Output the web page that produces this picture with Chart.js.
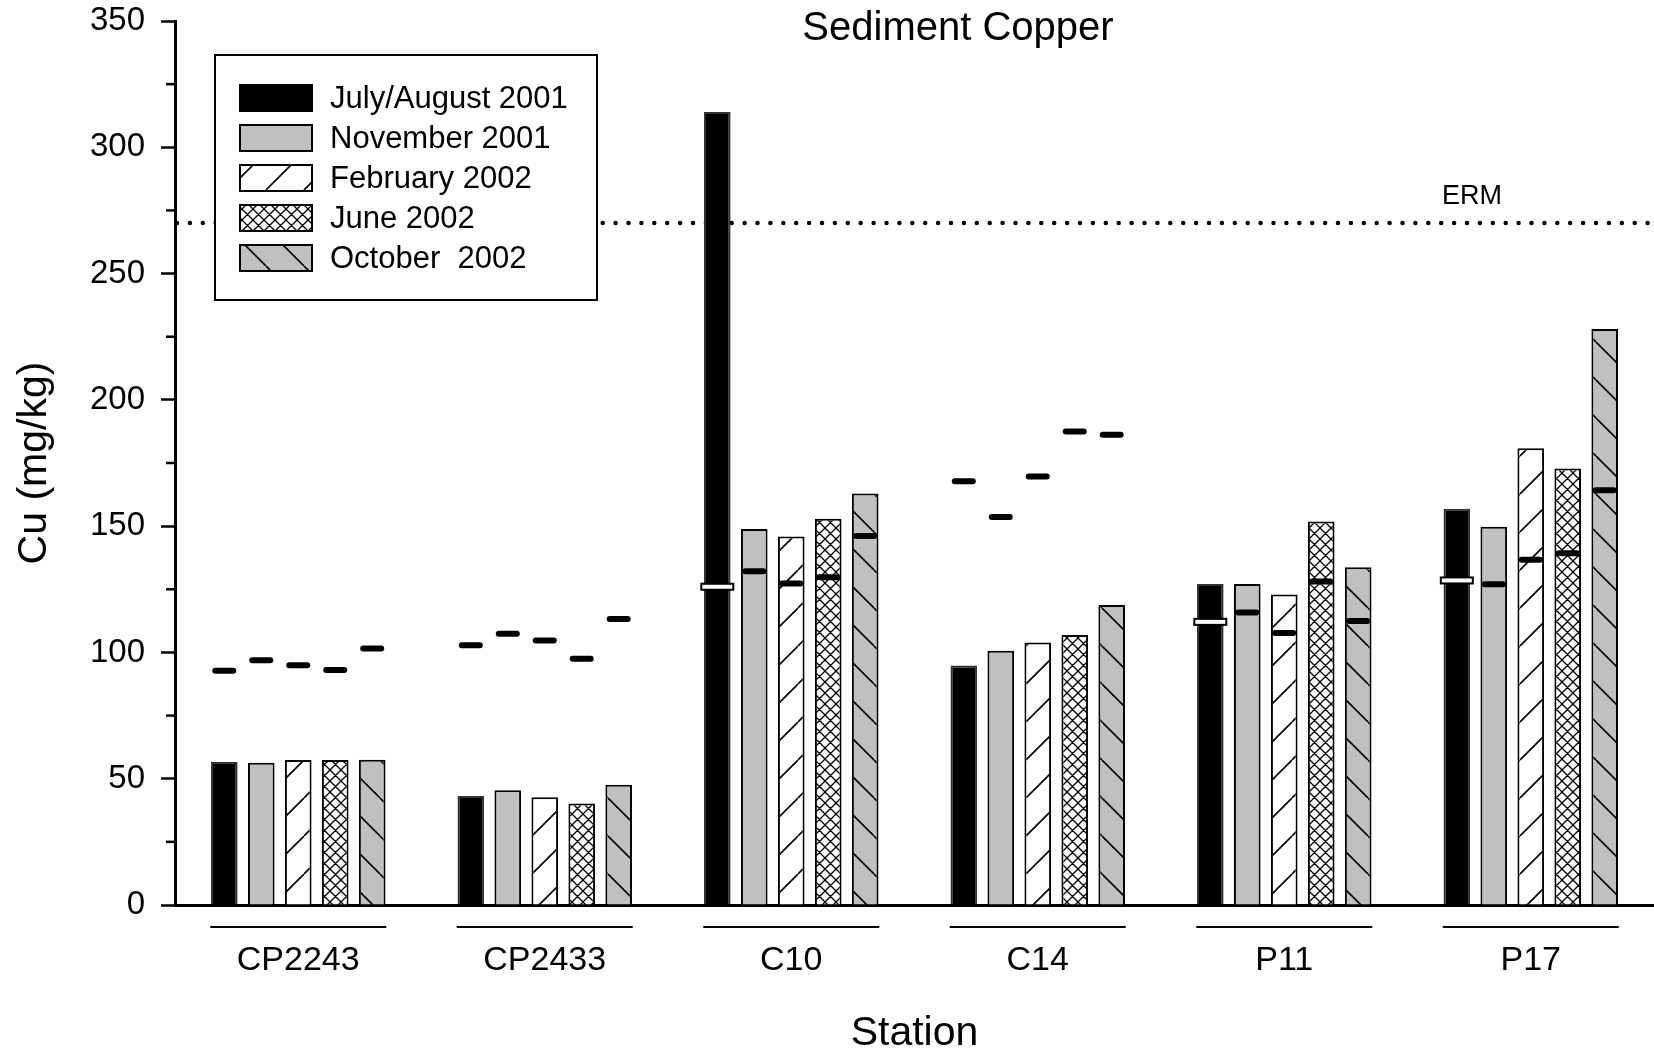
<!DOCTYPE html>
<html lang="en">
<head>
  <meta charset="UTF-8">
  <title>Sediment Copper</title>
  <script src="https://cdn.jsdelivr.net/npm/chart.js"></script>
  <style>
    html, body { margin: 0; padding: 0; background: #fff; }
  </style>
</head>
<body>
  <canvas id="grafico" width="1654" height="1055"></canvas>
  <script>
    // stations on the x axis
    var estacoes = ['CP2243', 'CP2433', 'C10', 'C14', 'P11', 'P17']
    var campanhas = ['July/August 2001', 'November 2001', 'February 2002', 'June 2002', 'October  2002']

    // bar heights (Cu mg/kg), one list per sampling
    var julAgo2001 = [56.6, 43.2, 314.0, 94.8, 127.1, 156.9]
    var nov2001 = [56.3, 45.4, 148.9, 100.7, 127.1, 149.8]
    var fev2002 = [57.4, 42.7, 145.9, 103.9, 122.9, 180.8]
    var jun2002 = [57.4, 40.2, 152.9, 106.9, 151.8, 172.8]
    var out2002 = [57.5, 47.6, 162.9, 118.8, 133.7, 228.1]

    // short dash markers drawn over each bar
    var marcaJulAgo = [92.7, 102.8, 126.0, 167.8, 112.1, 128.5]
    var marcaNov = [96.9, 107.4, 132.1, 153.6, 115.8, 127.0]
    var marcaFev = [94.9, 104.7, 127.3, 169.7, 107.7, 136.7]
    var marcaJun = [93.0, 97.5, 129.8, 187.5, 128.1, 139.3]
    var marcaOut = [101.6, 113.2, 146.1, 186.2, 112.4, 164.2]
    var marcas = [marcaJulAgo, marcaNov, marcaFev, marcaJun, marcaOut]

    var erm = 270
    var yTicks = [0, 50, 100, 150, 200, 250, 300, 350]
    var yMinor = [25, 75, 125, 175, 225, 275, 325]

    var fonte = '"Liberation Sans", Arial, sans-serif'
    Chart.defaults.font.family = fonte
    Chart.defaults.color = '#000'

    function hachura(tam, fundo, tipo, larg) {
      var c = document.createElement('canvas')
      c.width = tam
      c.height = tam
      var g = c.getContext('2d')
      g.fillStyle = fundo
      g.fillRect(0, 0, tam, tam)
      g.strokeStyle = '#000'
      g.lineWidth = larg
      g.beginPath()
      for (var k = -1; k <= 1; k++) {
        if (tipo == '/' || tipo == 'x') { g.moveTo(k * tam, tam); g.lineTo(k * tam + tam, 0) }
        if (tipo == '\\' || tipo == 'x') { g.moveTo(k * tam, 0); g.lineTo(k * tam + tam, tam) }
      }
      g.stroke()
      return g.createPattern(c, 'repeat')
    }

    var cores = ['#000000', '#c0c0c0', hachura(38, '#ffffff', '/', 1.6), hachura(11, '#ffffff', 'x', 1.3), hachura(38, '#c0c0c0', '\\', 1.6)]
    var series = [julAgo2001, nov2001, fev2002, jun2002, out2002]

    var datasets = []
    for (var i = 0; i < series.length; i++) {
      datasets.push({
        label: campanhas[i],
        data: series[i],
        backgroundColor: cores[i],
        borderColor: i == 0 ? '#333' : '#000',
        borderWidth: 2,
        categoryPercentage: 0.75,
        barPercentage: 0.72
      })
    }

    // ERM dotted line + label
    var linhaErm = {
      id: 'linhaErm',
      beforeDatasetsDraw: function (chart) {
        var ctx = chart.ctx
        var area = chart.chartArea
        var y = chart.scales.y.getPixelForValue(erm)
        ctx.save()
        ctx.strokeStyle = '#000'
        ctx.lineWidth = 4.5
        ctx.lineCap = 'round'
        ctx.setLineDash([0, 12.9])
        ctx.beginPath()
        ctx.moveTo(area.left + 2, y)
        ctx.lineTo(area.right, y)
        ctx.stroke()
        ctx.setLineDash([])
        ctx.font = '27px ' + fonte
        ctx.fillStyle = '#000'
        ctx.textAlign = 'left'
        ctx.textBaseline = 'middle'
        ctx.fillText('ERM', 1442, y - 27)
        ctx.restore()
      }
    }

    // dash markers on each bar
    var marcadores = {
      id: 'marcadores',
      afterDatasetsDraw: function (chart) {
        var ctx = chart.ctx
        var escY = chart.scales.y
        ctx.save()
        for (var i = 0; i < marcas.length; i++) {
          var meta = chart.getDatasetMeta(i)
          for (var j = 0; j < marcas[i].length; j++) {
            var bar = meta.data[j]
            var y = escY.getPixelForValue(marcas[i][j])
            if (i == 0 && marcas[i][j] < series[i][j]) {
              ctx.fillStyle = '#fff'
              ctx.strokeStyle = '#000'
              ctx.lineWidth = 2
              ctx.fillRect(bar.x - 16, y - 3, 32, 6)
              ctx.strokeRect(bar.x - 16, y - 3, 32, 6)
            } else {
              ctx.strokeStyle = '#000'
              ctx.lineWidth = 6
              ctx.lineCap = 'round'
              ctx.beginPath()
              ctx.moveTo(bar.x - 9, y)
              ctx.lineTo(bar.x + 9, y)
              ctx.stroke()
            }
          }
        }
        ctx.restore()
      }
    }

    // minor y ticks, group underlines, title, legend box
    var extras = {
      id: 'extras',
      afterDraw: function (chart) {
        var ctx = chart.ctx
        var area = chart.chartArea
        var escY = chart.scales.y
        var escX = chart.scales.x
        ctx.save()
        ctx.strokeStyle = '#000'
        ctx.lineWidth = 2.5
        yMinor.forEach(function (v) {
          var y = escY.getPixelForValue(v)
          ctx.beginPath()
          ctx.moveTo(area.left - 9, y)
          ctx.lineTo(area.left, y)
          ctx.stroke()
        })

        ctx.lineWidth = 2
        for (var j = 0; j < estacoes.length; j++) {
          var cx = escX.getPixelForValue(j)
          ctx.beginPath()
          ctx.moveTo(cx - 88, 927)
          ctx.lineTo(cx + 88, 927)
          ctx.stroke()
        }

        ctx.fillStyle = '#000'
        ctx.font = '40px ' + fonte
        ctx.textAlign = 'center'
        ctx.textBaseline = 'middle'
        ctx.fillText('Sediment Copper', 958, 29)

        // legend
        ctx.fillStyle = '#fff'
        ctx.fillRect(215, 55, 382, 245)
        ctx.lineWidth = 2
        ctx.strokeRect(215, 55, 382, 245)
        ctx.font = '31px ' + fonte
        ctx.textAlign = 'left'
        chart.data.datasets.forEach(function (ds, i) {
          var yy = 85 + 40 * i
          ctx.fillStyle = ds.backgroundColor
          ctx.fillRect(240, yy, 72, 26)
          ctx.strokeStyle = '#000'
          ctx.strokeRect(240, yy, 72, 26)
          ctx.fillStyle = '#000'
          ctx.fillText(ds.label, 330, yy + 14)
        })
        ctx.restore()
      }
    }

    new Chart(document.getElementById('grafico'), {
      type: 'bar',
      data: {
        labels: estacoes,
        datasets: datasets
      },
      options: {
        responsive: false,
        animation: false,
        layout: { padding: { top: 21, right: 0, left: 0, bottom: 0 } },
        plugins: {
          legend: { display: false },
          tooltip: { enabled: false }
        },
        scales: {
          x: {
            grid: { display: false, drawTicks: false },
            border: { display: true, color: '#000', width: 3 },
            ticks: { font: { size: 34 }, padding: 35, color: '#000' },
            title: { display: true, text: 'Station', font: { size: 41 }, padding: { top: 0, bottom: -3 }, color: '#000' },
            afterFit: function (s) { s.height = 150; s.paddingLeft = 0; s.paddingRight = 0 }
          },
          y: {
            min: 0,
            max: 350,
            afterBuildTicks: function (s) {
              s.ticks = yTicks.concat(yMinor).sort(function (a, b) { return a - b }).map(function (v) { return { value: v } })
            },
            grid: {
              drawOnChartArea: false,
              drawTicks: true,
              tickLength: 14,
              tickWidth: 2.5,
              tickColor: function (c) { return yTicks.indexOf(c.tick.value) >= 0 ? '#000' : 'rgba(0,0,0,0)' }
            },
            border: { display: true, color: '#000', width: 3 },
            ticks: {
              font: { size: 33 },
              padding: 16,
              color: '#000',
              autoSkip: false,
              callback: function (v) { return yTicks.indexOf(v) >= 0 ? v : '' }
            },
            title: { display: true, text: 'Cu (mg/kg)', font: { size: 41 }, padding: { top: 10, bottom: 0 }, color: '#000' },
            afterFit: function (s) { s.width = 175; s.paddingTop = 0; s.paddingBottom = 0 }
          }
        }
      },
      plugins: [linhaErm, marcadores, extras]
    })
  </script>
</body>
</html>
